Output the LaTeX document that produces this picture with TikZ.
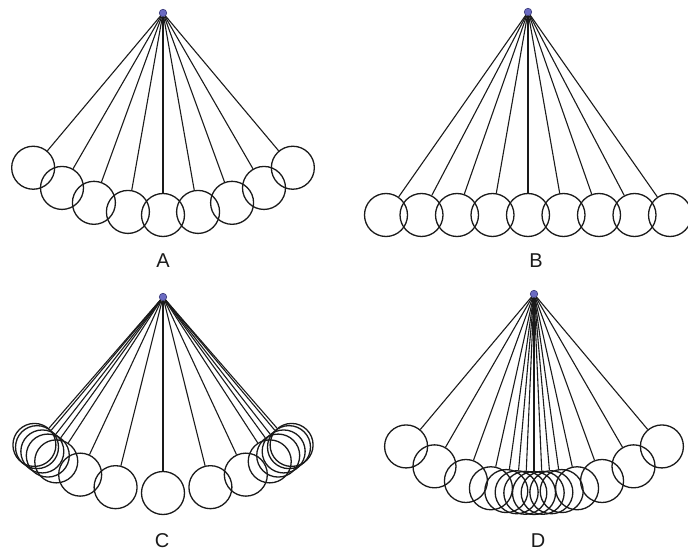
\documentclass[tikz,border=0pt]{standalone}
\usepackage{fontspec}
\setmainfont{Liberation Sans}
\definecolor{pivfill}{HTML}{6B6BC2}
\definecolor{pivline}{HTML}{3A3A7A}
\definecolor{inkc}{HTML}{1A1A1A}
\begin{document}
\begin{tikzpicture}[x=1pt,y=-1pt,
  bob/.style={circle,draw=inkc,line width=1.3pt,minimum size=43pt,inner sep=0pt},
  pivot/.style={circle,draw=pivline,fill=pivfill,line width=0.6pt,minimum size=7.5pt,inner sep=0pt},
  string/.style={draw=inkc,line width=1.1pt},
  lbl/.style={font=\fontsize{20}{22}\selectfont,text=inkc,inner sep=0pt}]
\useasboundingbox[fill=white] (0,0) rectangle (688,553);
% ---------- A ----------
\node[pivot] (pA) at (163,13) {};
\foreach \a [count=\i] in {-40,-30,-20,-10,0,10,20,30,40}{
  \node[bob] (A\i) at ({163+202*sin(\a)},{13+202*cos(\a)}) {};
  \draw[string] (pA) -- (A\i);
}
\node[lbl] (lA) at (163,261) {A};
% ---------- B ----------
\node[pivot] (pB) at (528,12) {};
\foreach \k [count=\i] in {-4,...,4}{
  \node[bob] (B\i) at ({528+35.5*\k},215) {};
  \draw[string] (pB) -- (B\i);
}
\node[lbl] (lB) at (536,261) {B};
% ---------- C ----------
\node[pivot] (pC) at (163,297) {};
\foreach \a [count=\i] in {-41,-40,-38,-36,-33,-25,-14,0,14,25,33,36,38,40,41}{
  \node[bob] (C\i) at ({163+196*sin(\a)},{297+196*cos(\a)}) {};
  \draw[string] (pC) -- (C\i);
}
\node[lbl] (lC) at (162,541) {C};
% ---------- D ----------
\node[pivot] (pD) at (534,294) {};
\foreach \a [count=\i] in {-40,-30,-20,-12.5,-8,-5,-2.5,0,2.5,5,8,12.5,20,30,40}{
  \node[bob] (D\i) at ({534+199*sin(\a)},{294+199*cos(\a)}) {};
  \draw[string] (pD) -- (D\i);
}
\node[lbl] (lD) at (538,541) {D};
\end{tikzpicture}
\end{document}
